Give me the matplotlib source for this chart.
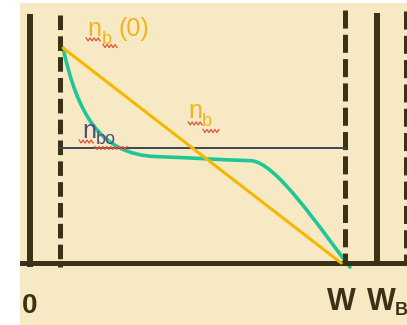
import numpy as np
import matplotlib
matplotlib.use("Agg")
import matplotlib.pyplot as plt
from matplotlib.path import Path
from matplotlib.patches import PathPatch

plt.rcParams['lines.scale_dashes'] = False
plt.rcParams['font.family'] = ['Liberation Sans', 'DejaVu Sans']

# ---- data (x in units of W, n in units of n_b(0)) ----
x_left = 0.0          # "0" boundary (solid)
x_dep_left = 0.095    # depletion edge (dashed)
x_W = 1.0             # W (dashed)
x_WB = 1.103          # W_B (solid)
x_dep_right = 1.194   # dashed beyond W_B

nb0 = 1.0
nbo = 0.535

orange_x = [0.105, 0.988]
orange_n = [1.0, 0.0]

# teal profile: cubic Bezier anchor / control points
teal_x = [0.105, 0.15, 0.22, 0.40, 0.50, 0.62, 0.70, 0.78, 0.92, 1.016]
teal_n = [1.000, 0.70, 0.505, 0.495, 0.490, 0.479, 0.476, 0.473, 0.16, -0.019]

tick_labels = ["0", "W", "W"]

# ---- colours ----
bg = '#F6E9C4'
dark = '#3A3116'
orange = '#F4B800'
orange_txt = '#F2B41C'
teal = '#1FC796'
slate = '#3C4654'
slate_txt = '#4B4F7A'
red = '#E8503A'

fig = plt.figure(figsize=(4.07, 3.25), dpi=100)
fig.patch.set_facecolor('white')
ax = fig.add_axes([20/407, 0, 387/407, 322/325])
ax.set_facecolor(bg)
for s in ax.spines.values():
    s.set_visible(False)
ax.set_xticks([])
ax.set_yticks([])
ax.set_xlim(-0.0317, 1.1968)
ax.set_ylim(-0.2884, 1.2093)

# baseline
ax.plot([-0.05, 1.25], [0, 0], color=dark, lw=3.6, solid_capstyle='butt')

# vertical boundaries
ax.plot([x_left, x_left], [-0.019, 1.158], color=dark, lw=4.3, solid_capstyle='butt')
ax.plot([x_WB, x_WB], [-0.005, 1.163], color=dark, lw=4.3, solid_capstyle='butt')
ax.plot([x_dep_left, x_dep_left], [1.153, -0.019], color=dark, lw=3.6,
        linestyle=(0, (10.5, 4.5)), dash_capstyle='butt')
ax.plot([x_W, x_W], [1.177, -0.01], color=dark, lw=3.6,
        linestyle=(0, (13, 4.5)), dash_capstyle='butt')
ax.plot([x_dep_right, x_dep_right], [1.170, -0.01], color=dark, lw=3.6,
        linestyle=(0, (13, 4.5)), dash_capstyle='butt')

# n_bo line
ax.plot([x_dep_left, x_W], [nbo, nbo], color=slate, lw=1.4)

# orange linear profile
ax.plot(orange_x, orange_n, color=orange, lw=2.2, solid_capstyle='round')

# teal profile (smooth Bezier)
verts = list(zip(teal_x, teal_n))
codes = [Path.MOVETO] + [Path.CURVE4] * (len(verts) - 1)
ax.add_patch(PathPatch(Path(verts, codes), facecolor='none', edgecolor=teal,
                       lw=2.6, capstyle='round', joinstyle='round'))

# labels
ax.text(0.181, 1.056, "n", color=orange_txt, fontsize=18, ha='left', va='baseline')
ax.text(0.229, 1.019, "b", color=orange_txt, fontsize=13, ha='left', va='baseline')
ax.text(0.280, 1.056, "(0)", color=orange_txt, fontsize=18, ha='left', va='baseline')

ax.text(0.502, 0.674, "n", color=orange_txt, fontsize=18, ha='left', va='baseline')
ax.text(0.546, 0.637, "b", color=orange_txt, fontsize=13, ha='left', va='baseline')

ax.text(0.165, 0.581, "n", color=slate_txt, fontsize=18, ha='left', va='baseline')
ax.text(0.210, 0.553, "bo", color=slate_txt, fontsize=13, ha='left', va='baseline')

ax.text(-0.025, -0.233, tick_labels[0], color=dark, fontsize=20, fontweight='bold',
        ha='left', va='baseline')
ax.text(0.943, -0.219, tick_labels[1], color=dark, fontsize=22, fontweight='bold',
        ha='left', va='baseline')
ax.text(1.070, -0.219, tick_labels[2], color=dark, fontsize=22, fontweight='bold',
        ha='left', va='baseline')
ax.text(1.159, -0.242, "B", color=dark, fontsize=13, fontweight='bold',
        ha='left', va='baseline')

# spell-check squiggles (decoration)
def squiggle(x0, x1, y):
    step = 2.0 / 315
    xs = np.arange(x0, x1 + 1e-9, step)
    ys = y + np.where(np.arange(len(xs)) % 2 == 0, 0.007, -0.007)
    ax.plot(xs, ys, color=red, lw=0.9)

squiggle(0.178, 0.225, 1.040)
squiggle(0.232, 0.279, 1.009)
squiggle(0.502, 0.549, 0.649)
squiggle(0.549, 0.603, 0.614)
squiggle(0.156, 0.206, 0.565)
squiggle(0.206, 0.308, 0.535)

fig.savefig('out.png', dpi=100)
